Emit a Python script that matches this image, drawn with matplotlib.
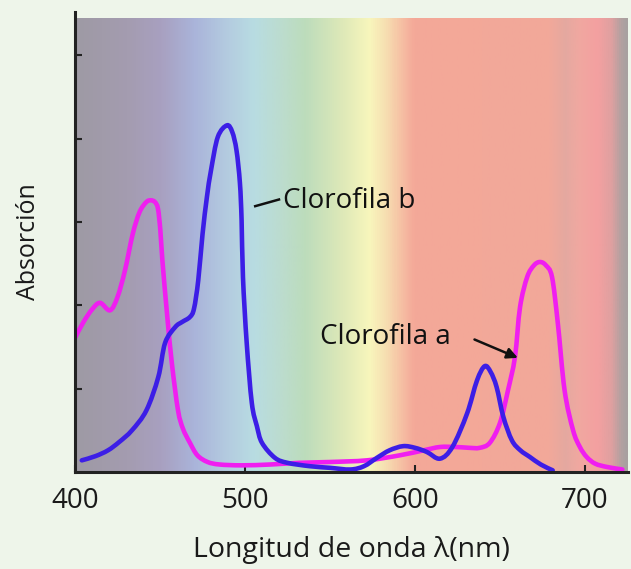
import numpy as np
import matplotlib
matplotlib.use("Agg")
import matplotlib.pyplot as plt
from matplotlib.colors import LinearSegmentedColormap
from matplotlib.path import Path
from matplotlib.patches import PathPatch

plt.rcParams['font.family'] = ['Open Sans', 'DejaVu Sans']

# Clorofila a (magenta)
wl_a = [400, 405, 410, 414.7, 420.6, 425, 429.4, 434, 438, 442, 444.7, 447, 448.8, 450.2,
        451.4, 454.3, 457, 460.6, 463.5, 467.6, 472, 478, 485, 498, 515, 532, 550, 571.8,
        591, 605, 614.7, 624, 632, 638, 644, 650, 654.7, 658.8, 661.8, 666, 670, 673.5,
        677, 680.6, 684, 688, 693, 697, 701, 706, 713, 722]
abs_a = [1.61, 1.8, 1.95, 2.03, 1.94, 2.1, 2.42, 2.86, 3.12, 3.24, 3.26, 3.24, 3.16, 2.9,
         2.54, 1.86, 1.3, 0.74, 0.52, 0.35, 0.2, 0.12, 0.09, 0.08, 0.09, 0.11, 0.12, 0.14,
         0.2, 0.26, 0.3, 0.3, 0.29, 0.29, 0.35, 0.59, 0.98, 1.38, 1.98, 2.34, 2.48, 2.52,
         2.48, 2.34, 1.79, 0.98, 0.5, 0.3, 0.18, 0.1, 0.06, 0.03]

# Clorofila b (azul)
wl_b = [404, 412, 419.4, 426, 433.5, 442, 449, 453, 459, 463, 467.6, 470, 472.5, 475,
        477.6, 480, 484, 489.4, 492.5, 495, 497, 498, 498.8, 501, 504, 507, 510, 517.6,
        525, 538, 550, 562, 570, 577.6, 585, 593, 600, 607, 614.7, 622, 630.6, 636.5, 641,
        644.5, 648, 652, 657, 662, 667.6, 674, 681]
abs_b = [0.14, 0.19, 0.26, 0.36, 0.5, 0.74, 1.14, 1.55, 1.74, 1.8, 1.86, 1.96, 2.3, 2.85,
         3.3, 3.62, 4.02, 4.16, 4.08, 3.86, 3.47, 3.02, 2.34, 1.55, 0.83, 0.55, 0.35, 0.17,
         0.11, 0.07, 0.05, 0.03, 0.07, 0.17, 0.26, 0.31, 0.29, 0.24, 0.16, 0.3, 0.7, 1.1,
         1.27, 1.2, 1.02, 0.66, 0.38, 0.26, 0.18, 0.09, 0.02]

x_ticks = [400, 500, 600, 700]
y_ticks = [1, 2, 3, 4, 5]

# colores del espectro visible de fondo
spec_nodes = [400, 430, 450, 470, 490, 505, 520, 535, 556, 573.5, 584, 592, 600, 680, 689,
              697, 708, 716, 722, 725.3]
spec_cols = ['#9e9aa4', '#a49cb0', '#a8a0c0', '#aab4da', '#b4cce0', '#b8dce2', '#bcdcd0',
             '#bcdcbc', '#dce8b8', '#f8f6bc', '#f6dcb0', '#f6c0a4', '#f4a898', '#f2a89a',
             '#e4a8a0', '#f0a8a0', '#f4a0a0', '#e0a0a0', '#b4a0a0', '#a8a0a0']


def smooth_path(xs, ys):
    # curva de Catmull-Rom como segmentos de Bezier
    pts = np.column_stack([xs, ys]).astype(float)
    pts = np.vstack([pts[0], pts, pts[-1]])
    verts = [pts[1]]
    codes = [Path.MOVETO]
    for i in range(1, len(pts) - 2):
        p0, p1, p2, p3 = pts[i - 1], pts[i], pts[i + 1], pts[i + 2]
        verts += [p1 + (p2 - p0) / 6, p2 - (p3 - p1) / 6, p2]
        codes += [Path.CURVE4] * 3
    return Path(verts, codes)


x_min, x_max = 400, 725.3
fig = plt.figure(figsize=(6.31, 5.69), dpi=100, facecolor='#eef5ea')
ax = fig.add_axes([75 / 631, 97 / 569, 553 / 631, 460 / 569])
ax.set_facecolor('#eef5ea')

pos = [(v - x_min) / (x_max - x_min) for v in spec_nodes]
cmap = LinearSegmentedColormap.from_list('espectro', list(zip(pos, spec_cols)))
grad = np.linspace(0, 1, 800).reshape(1, -1)
ax.imshow(grad, cmap=cmap, aspect='auto', extent=[x_min, x_max, 0, 5.44], zorder=0)

ax.add_patch(PathPatch(smooth_path(wl_a, abs_a), fill=False, edgecolor='#f01ef0',
                       lw=3.3, capstyle='round', joinstyle='round', zorder=3))
ax.add_patch(PathPatch(smooth_path(wl_b, abs_b), fill=False, edgecolor='#3c1ee6',
                       lw=3.3, capstyle='round', joinstyle='round', zorder=4))

ax.set_xlim(x_min, x_max)
ax.set_ylim(0, 5.52)
ax.set_xticks(x_ticks)
ax.set_yticks(y_ticks)
ax.set_yticklabels([])
ax.tick_params(axis='both', direction='in', length=5, width=1.5, color='#222222')
ax.tick_params(axis='x', labelsize=20, pad=11, labelcolor='#1a1a1a')
for s in ['top', 'right']:
    ax.spines[s].set_visible(False)
for s in ['left', 'bottom']:
    ax.spines[s].set_linewidth(2.2)
    ax.spines[s].set_color('#222222')
    ax.spines[s].set_zorder(5)

ax.set_xlabel('Longitud de onda λ(nm)', fontsize=20.5, labelpad=15, color='#1a1a1a')
ax.set_ylabel('Absorción', fontsize=18, labelpad=21, color='#1a1a1a')

# etiquetas
ax.plot([506, 520], [3.19, 3.27], color='#111111', lw=1.8, zorder=5)
ax.text(522.5, 3.25, 'Clorofila b', fontsize=20, va='center', ha='left', color='#111111')
ax.text(544, 1.62, 'Clorofila a', fontsize=20, va='center', ha='left', color='#111111')
ax.annotate('', xy=(660.5, 1.37), xytext=(635, 1.59),
            arrowprops=dict(arrowstyle='-|>', color='#111111', lw=1.8,
                            mutation_scale=16, shrinkA=0, shrinkB=0), zorder=5)

plt.savefig('out.png', dpi=100, facecolor=fig.get_facecolor())
